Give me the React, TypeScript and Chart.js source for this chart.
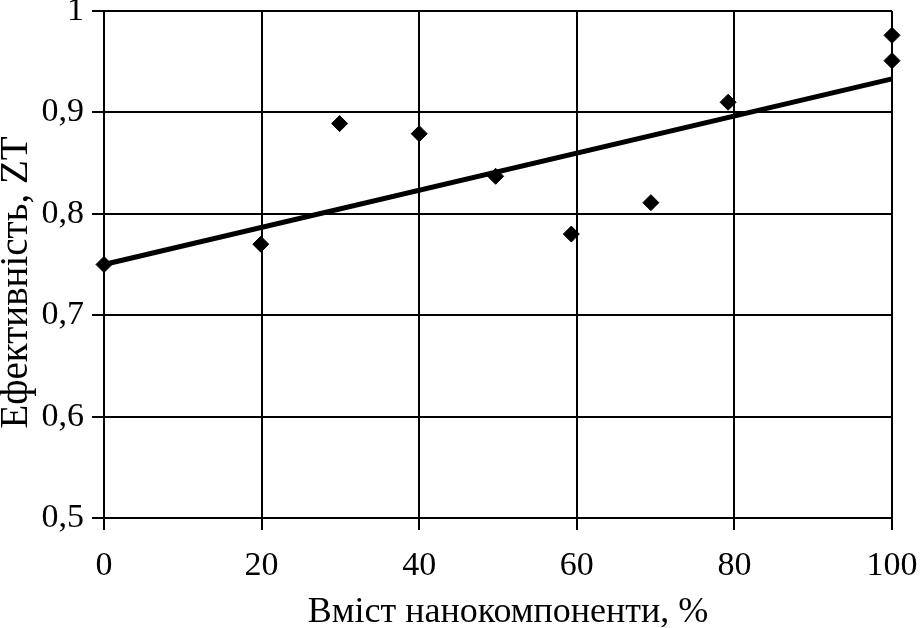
import React, { useEffect, useRef } from "react";
import { Chart, registerables } from "chart.js";

Chart.register(...registerables);

const xValues = [0, 19.9, 29.9, 40, 49.7, 59.3, 69.4, 79.2, 100, 100];
const yValues = [0.75, 0.77, 0.889, 0.879, 0.837, 0.78, 0.811, 0.91, 0.951, 0.976];
const trendX = [0, 100];
const trendY = [0.75, 0.933];
const xTitle = "Вміст нанокомпоненти, %";
const yTitle = "Ефективність, ZT";

const FONT = "'Liberation Serif', 'Times New Roman', serif";

const axisTitlesPlugin = {
  id: "axisTitlesPlugin",
  afterDraw(chart: any) {
    const ctx = chart.ctx;
    const area = chart.chartArea;
    ctx.save();
    ctx.fillStyle = "#000";
    ctx.textAlign = "center";
    ctx.textBaseline = "alphabetic";
    // x title
    ctx.font = `36px ${FONT}`;
    ctx.fillText(xTitle, (area.left + area.right) / 2 + 10, 622);
    // y title
    ctx.translate(27, (area.top + area.bottom) / 2 + 18);
    ctx.rotate(-Math.PI / 2);
    ctx.font = `39px ${FONT}`;
    ctx.fillText(yTitle, 0, 0);
    ctx.restore();
  },
};

export default function App() {
  const ref = useRef<HTMLCanvasElement | null>(null);

  useEffect(() => {
    document.body.style.margin = "0";
    const canvas = ref.current;
    if (!canvas) return;
    const points = xValues.map((x, i) => ({ x, y: yValues[i] }));
    const trend = trendX.map((x, i) => ({ x, y: trendY[i] }));
    const chart = new Chart(canvas, {
      type: "scatter",
      data: {
        datasets: [
          {
            data: trend,
            showLine: true,
            borderColor: "#000",
            borderWidth: 5,
            pointRadius: 0,
            pointHoverRadius: 0,
            fill: false,
            clip: false,
          },
          {
            data: points,
            pointStyle: "rectRot",
            pointRadius: 8,
            pointBackgroundColor: "#000",
            pointBorderColor: "#000",
            pointBorderWidth: 1,
            showLine: false,
            clip: false,
          },
        ],
      } as any,
      options: {
        animation: false,
        responsive: false,
        maintainAspectRatio: false,
        layout: { padding: { top: 11, right: 28, left: 0, bottom: 0 } },
        plugins: { legend: { display: false }, tooltip: { enabled: false } },
        scales: {
          x: {
            type: "linear",
            min: 0,
            max: 100,
            border: { display: true, color: "#000", width: 2 },
            grid: { color: "#000", lineWidth: 2, drawTicks: true, tickLength: 12, tickColor: "#000" },
            ticks: {
              stepSize: 20,
              color: "#000",
              padding: 16,
              font: { family: FONT, size: 34, lineHeight: 1.2 },
              maxRotation: 0,
            },
            title: { display: false },
            afterFit: (s: any) => {
              s.height = 110;
              s.paddingLeft = 0;
              s.paddingRight = 0;
            },
          },
          y: {
            type: "linear",
            min: 0.5,
            max: 1,
            border: { display: true, color: "#000", width: 2 },
            grid: { color: "#000", lineWidth: 2, drawTicks: true, tickLength: 12, tickColor: "#000" },
            ticks: {
              stepSize: 0.1,
              color: "#000",
              padding: 8,
              font: { family: FONT, size: 34, lineHeight: 1.2 },
              callback: (v: any) => {
                const n = Number(v);
                if (Math.abs(n - 1) < 1e-9) return "1";
                return n.toFixed(1).replace(".", ",");
              },
            },
            title: { display: false },
            afterFit: (s: any) => {
              s.width = 104;
              s.paddingTop = 0;
              s.paddingBottom = 0;
            },
          },
        },
      },
      plugins: [axisTitlesPlugin],
    });
    return () => chart.destroy();
  }, []);

  return (
    <div style={{ width: 920, height: 628, background: "#fff" }}>
      <canvas ref={ref} width={920} height={628} style={{ display: "block" }} />
    </div>
  );
}
